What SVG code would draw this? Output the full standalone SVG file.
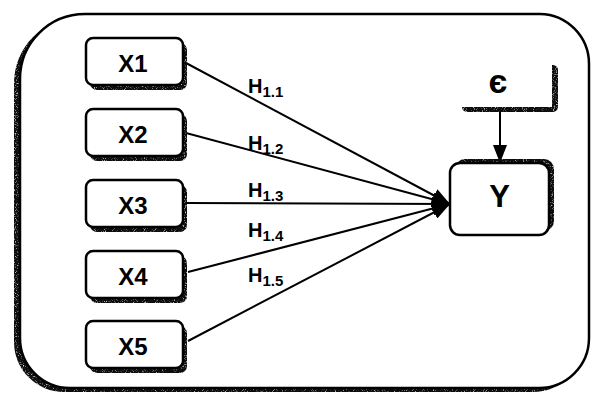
<svg xmlns="http://www.w3.org/2000/svg" width="592" height="394" viewBox="0 0 592 394">
  <defs>
    <!-- speckled, photocopy-style shadow texture -->
    <filter id="grain" x="-10%" y="-10%" width="120%" height="120%">
      <feTurbulence type="fractalNoise" baseFrequency="0.9" numOctaves="1" seed="7" result="noise"/>
      <feColorMatrix in="noise" type="matrix" values="0 0 0 0 0  0 0 0 0 0  0 0 0 0 0  -3.5 0 0 0 2.9" result="mask"/>
      <feComposite in="SourceGraphic" in2="mask" operator="in"/>
    </filter>
    <marker id="head" viewBox="0 0 18 14" refX="18" refY="7" markerWidth="18" markerHeight="14" markerUnits="userSpaceOnUse" orient="auto">
      <path d="M0 0 L18 7 L0 14 Z" fill="#000"/>
    </marker>
    <marker id="headV" viewBox="0 0 18 14" refX="18" refY="7" markerWidth="18" markerHeight="14" markerUnits="userSpaceOnUse" orient="auto">
      <path d="M0 0 L18 7 L0 14 Z" fill="#000"/>
    </marker>
  </defs>
  <style>
    .shadow { fill: #111; filter: url(#grain); }
    .box { fill: #fff; stroke: #000; stroke-width: 2.5; }
    .lbl { font-family: "Liberation Sans", Arial, sans-serif; font-weight: bold; fill: #000; }
    .var { font-size: 24px; text-anchor: middle; }
    .hyp { font-size: 20px; }
    .sub { font-size: 15px; }
    .edge { stroke: #000; stroke-width: 2; fill: none; }
  </style>

  <rect width="592" height="394" fill="#fff"/>

  <!-- outer frame with shadow on left and bottom -->
  <g id="frame">
    <path class="shadow" d="M79 18 H534 A50 50 0 0 1 583 68 V342 A50 50 0 0 1 533 392 H64 A50 50 0 0 1 14 342 V83 A65 65 0 0 1 79 18 Z"/>
    <path d="M85 14 H540 A50 50 0 0 1 589 64 V338 A50 50 0 0 1 539 388 H70 A50 50 0 0 1 20 338 V79 A65 65 0 0 1 85 14 Z" fill="#fff" stroke="#000" stroke-width="2.5"/>
  </g>

  <!-- connectors -->
  <g id="connectors">
    <line class="edge" x1="186" y1="63" x2="450" y2="204" marker-end="url(#head)"/>
    <line class="edge" x1="186" y1="133" x2="450" y2="204" marker-end="url(#head)"/>
    <line class="edge" x1="186" y1="203" x2="450" y2="204" marker-end="url(#head)"/>
    <line class="edge" x1="188" y1="272" x2="450" y2="204" marker-end="url(#head)"/>
    <line class="edge" x1="188" y1="341" x2="450" y2="204" marker-end="url(#head)"/>
    <line class="edge" x1="500" y1="111" x2="500" y2="163" marker-end="url(#headV)"/>
  </g>

  <!-- hypothesis labels -->
  <g id="labels">
    <text class="lbl hyp" x="248" y="93">H<tspan class="sub" dy="4">1.1</tspan></text>
    <text class="lbl hyp" x="248" y="150">H<tspan class="sub" dy="4">1.2</tspan></text>
    <text class="lbl hyp" x="248" y="197">H<tspan class="sub" dy="4">1.3</tspan></text>
    <text class="lbl hyp" x="248" y="237">H<tspan class="sub" dy="4">1.4</tspan></text>
    <text class="lbl hyp" x="248" y="282">H<tspan class="sub" dy="4">1.5</tspan></text>
  </g>

  <g id="X1">
    <rect class="shadow" x="90" y="43" width="97" height="47" rx="7"/>
    <rect class="box" x="86" y="38" width="97" height="47" rx="7"/>
    <text class="lbl var" x="133" y="72">X1</text>
  </g>
  <g id="X2">
    <rect class="shadow" x="90" y="114" width="97" height="47" rx="7"/>
    <rect class="box" x="86" y="109" width="97" height="47" rx="7"/>
    <text class="lbl var" x="133" y="143">X2</text>
  </g>
  <g id="X3">
    <rect class="shadow" x="90" y="185" width="97" height="47" rx="7"/>
    <rect class="box" x="86" y="180" width="97" height="47" rx="7"/>
    <text class="lbl var" x="133" y="214">X3</text>
  </g>
  <g id="X4">
    <rect class="shadow" x="90" y="256" width="97" height="47" rx="7"/>
    <rect class="box" x="86" y="251" width="97" height="47" rx="7"/>
    <text class="lbl var" x="133" y="285">X4</text>
  </g>
  <g id="X5">
    <rect class="shadow" x="90" y="326" width="97" height="47" rx="7"/>
    <rect class="box" x="86" y="321" width="97" height="47" rx="7"/>
    <text class="lbl var" x="133" y="355">X5</text>
  </g>

  <g id="Y">
    <rect class="shadow" x="455" y="159" width="99" height="72" rx="10"/>
    <rect class="box" x="450" y="163" width="99" height="72" rx="10"/>
    <text class="lbl" x="499.5" y="207" font-size="31" text-anchor="middle">Y</text>
  </g>

  <!-- error term: borderless box, only its shadow shows -->
  <g id="epsilon">
    <rect class="shadow" x="462" y="65" width="96" height="47" rx="5"/>
    <rect x="456" y="60" width="96" height="47" fill="#fff"/>
    <text class="lbl" x="498" y="93" font-size="34" text-anchor="middle">є</text>
  </g>
</svg>
